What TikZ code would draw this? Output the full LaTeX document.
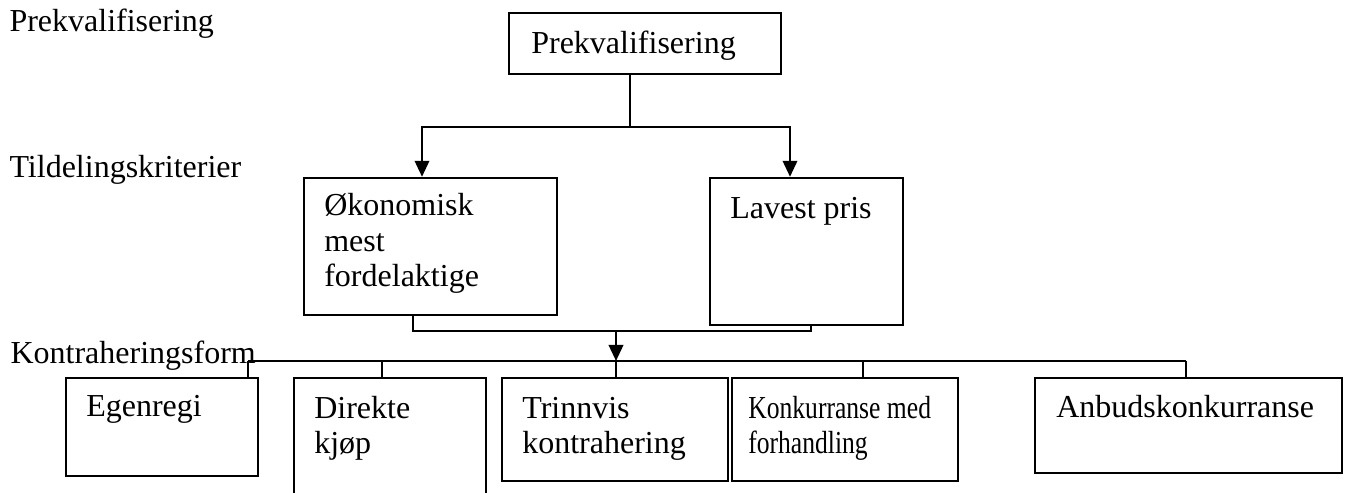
\documentclass[tikz,border=0pt]{standalone}
\usepackage{fontspec}
\setmainfont{Liberation Serif}
\usetikzlibrary{positioning,fit,arrows.meta}

\tikzset{
  boks/.style={draw, line width=0.9pt, inner sep=0pt},
  tekst/.style={anchor=base west, inner sep=0pt, align=left,
    font=\fontsize{12pt}{13.4pt}\selectfont},
  linje/.style={line width=0.9pt},
  pil/.style={line width=0.9pt, -{Triangle[length=6pt,width=5.4pt]}},
}

\begin{document}
\begin{tikzpicture}[x=0.375pt, y=-0.375pt]
\path[use as bounding box, clip] (0,0) rectangle (1348,493);

% nivaaene til venstre
\node[tekst] (niva1) at (9,32) {Prekvalifisering};
\node[tekst] (niva2) at (9,178) {Tildelingskriterier};
\node[tekst] (niva3) at (10,364) {Kontraheringsform};

% boksene
\node[boks, fit={(509,13) (781,74)}] (prekv) {};
\node[boks, fit={(304,178) (557,315)}] (okon) {};
\node[boks, fit={(710,178) (903,325)}] (lavest) {};
\node[boks, fit={(66,378) (258,476)}] (egen) {};
\node[boks, fit={(294,378) (486,520)}] (direkte) {};
\node[boks, fit={(502,378) (728,481)}] (trinn) {};
\node[boks, fit={(732,378) (958,481)}] (konk) {};
\node[boks, fit={(1035,378) (1342,473)}] (anbud) {};

% tekst i boksene (base = siste linje)
\node[tekst] at ([shift={(23,42)}]prekv.north west) {Prekvalifisering};
\node[tekst] at ([shift={(21,110)}]okon.north west) {Økonomisk\\mest\\fordelaktige};
\node[tekst] at ([shift={(21,42)}]lavest.north west) {Lavest pris};
\node[tekst] at ([shift={(21,40)}]egen.north west) {Egenregi};
\node[tekst] at ([shift={(21,77)}]direkte.north west) {Direkte\\kjøp};
\node[tekst] at ([shift={(21,77)}]trinn.north west) {Trinnvis\\kontrahering};
\node[tekst] at ([shift={(17,77)}]konk.north west)
  {\scalebox{0.8}[1]{Konkurranse med}\\\scalebox{0.8}[1]{forhandling}};
\node[tekst] at ([shift={(22,41)}]anbud.north west) {Anbudskonkurranse};

% fra prekvalifisering
\coordinate (delt) at (630,127);
\coordinate (pilA) at (422,127);
\coordinate (pilB) at (790,127);
\draw[linje] (prekv.south -| delt) -- (delt);
\draw[pil] (delt) -- (pilA) -- (pilA |- okon.north);
\draw[pil] (delt) -- (pilB) -- (pilB |- lavest.north);

% samle tildelingskriteriene
\coordinate (utA) at (413,331);
\coordinate (utB) at (811,331);
\coordinate (samle) at (616,331);
\coordinate (buss) at (616,361);
\draw[linje] (utA |- okon.south) -- (utA) -- (utB) -- (utB |- lavest.south);
\draw[pil] (samle) -- (buss);

% ned til kontraheringsformene
\coordinate (bussV) at (248,361);
\coordinate (bussH) at (1186,361);
\draw[linje] (bussV) -- (bussH);
\foreach \b/\x in {egen/248, direkte/382, trinn/616, konk/863, anbud/1186}
  \draw[linje] (\x,361) -- (\x,361 |- \b.north);
\end{tikzpicture}
\end{document}
